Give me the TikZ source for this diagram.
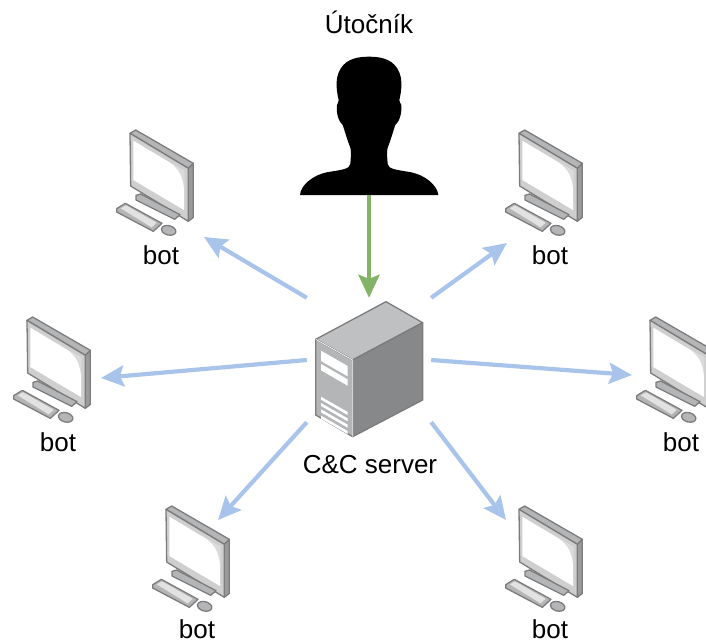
\documentclass[tikz,border=0pt]{standalone}
\usepackage{fontspec}
\usepackage{xcolor}
\setmainfont{Liberation Sans}
\usetikzlibrary{positioning,calc,arrows.meta}

\definecolor{linkblue}{HTML}{A9C4EB}
\definecolor{linkgreen}{HTML}{82B366}
\definecolor{edgegray}{HTML}{7C7C7C}
\definecolor{bodygray}{HTML}{B4B5B7}
\definecolor{sidegray}{HTML}{87888A}
\definecolor{framegray}{HTML}{CFCFD0}
\definecolor{keygray}{HTML}{E2E2E2}

\tikzset{
    caption/.style={inner sep=0pt, font=\fontsize{26}{26}\selectfont},
    hollow/.style={rectangle, inner sep=0pt, minimum width=124pt, minimum height=124pt},
    order/.style={draw=linkblue, line width=4.2pt, -{Stealth[length=23pt,width=21pt,inset=4pt]}},
    control/.style={draw=linkgreen, line width=4.2pt, -{Stealth[length=23pt,width=21pt,inset=4pt]}},
    part/.style={draw=edgegray, line width=1.3pt, line join=round},
    computer/.pic={
        % monitor
        \draw[part, fill=bodygray] (90,40) -- (107,30) -- (280,130) -- (265,145) -- cycle;
        \draw[part, fill=sidegray!85!white] (265,145) -- (280,130) -- (280,292) -- (265,304) -- cycle;
        \draw[part, fill=framegray] (90,40) -- (265,145) -- (265,304) -- (92,198) -- cycle;
        \fill[white] (100,62) -- (252,153) -- (252,270) -- (100,180) -- cycle;
        \fill[black!14] (212,129) -- (252,153) -- (252,205) .. controls (248,170) and (238,148) .. cycle;
        % stand
        \draw[part, fill=bodygray] (108,226) -- (122,222) -- (240,284) -- (224,298) -- (108,240) -- cycle;
        % keyboard
        \draw[part, fill=bodygray] (50,266) -- (76,250) -- (186,310) -- (160,334) -- (50,276) -- cycle;
        \fill[keygray] (62,265) -- (78,256) -- (170,308) -- (155,322) -- cycle;
        % mouse
        \draw[part, fill=bodygray] (206,331) ellipse [x radius=22, y radius=14, rotate=-15];
    },
    tower/.pic={
        \draw[part, fill=bodygray!85!white] (77,178) -- (288,65) -- (398,128) -- (188,240) -- cycle;
        \draw[part, fill=sidegray] (188,240) -- (398,128) -- (398,360) -- (188,470) -- cycle;
        \draw[part, fill=bodygray] (77,178) -- (188,240) -- (188,470) -- (77,405) -- cycle;
        \draw[white, line width=0.7pt] (77,178) -- (188,240) -- (188,470);
        \fill[white] (93,212) -- (173,258) -- (173,289) -- (93,243) -- cycle;
        \fill[white] (93,252) -- (173,298) -- (173,317) -- (93,271) -- cycle;
        \foreach \n in {0,1,2,3}
            \fill[white] (93,{350+\n*19}) -- (173,{396+\n*19}) -- (173,{405+\n*19}) -- (93,{359+\n*19}) -- cycle;
    },
    person/.pic={
        \fill[black] (30,555) .. controls (32,525) and (70,495) .. (110,487)
            .. controls (150,480) and (180,478) .. (181,462)
            .. controls (183,430) and (185,420) .. (178,405)
            .. controls (170,385) and (162,355) .. (158,345)
            .. controls (146,335) and (138,310) .. (141,285)
            .. controls (143,275) and (146,280) .. (146,270)
            .. controls (140,245) and (136,215) .. (145,190)
            .. controls (160,150) and (195,140) .. (237,140)
            .. controls (279,140) and (314,150) .. (329,190)
            .. controls (338,215) and (334,245) .. (328,270)
            .. controls (328,280) and (331,275) .. (334,285)
            .. controls (336,310) and (328,335) .. (316,345)
            .. controls (312,355) and (304,385) .. (296,405)
            .. controls (289,420) and (291,430) .. (293,462)
            .. controls (294,478) and (324,480) .. (364,487)
            .. controls (404,495) and (442,525) .. (445,555) -- cycle;
    }
}

\begin{document}
\begin{tikzpicture}[x=1pt, y=-1pt]
    \useasboundingbox (0,0) rectangle (706,641);

    \pic[scale=1/3] at (290,10) {person};
    \pic[scale=1/3] at (290,280) {tower};
    \pic[scale=1/3] at (100,120) {computer};
    \pic[scale=1/3] at (489,120) {computer};
    \pic[scale=1/3] at (-3,307) {computer};
    \pic[scale=1/3] at (620,307) {computer};
    \pic[scale=1/3] at (136,496) {computer};
    \pic[scale=1/3] at (489,496) {computer};

    \node[caption] (attacker) at (369,22) {Útočník};
    \node[caption] (server) at (370,465) {C\&C server};
    \node[caption] (botNW) at (161,255) {bot};
    \node[caption] (botNE) at (550,255) {bot};
    \node[caption] (botW) at (58,442) {bot};
    \node[caption] (botE) at (681,442) {bot};
    \node[caption] (botSW) at (197,629.5) {bot};
    \node[caption] (botSE) at (550,629.5) {bot};

    \node[hollow] (srv) at (369,360) {};
    \coordinate (head) at (369,195);
    \coordinate (endNW) at (204,237);
    \coordinate (endNE) at (507,243);
    \coordinate (endW) at (101,378);
    \coordinate (endE) at (632,375);
    \coordinate (endSW) at (218,520);
    \coordinate (endSE) at (506,520);

    \draw[control] (head) -- (srv.north);
    \draw[order] (srv.north west) -- (endNW);
    \draw[order] (srv.north east) -- (endNE);
    \draw[order] (srv.west) -- (endW);
    \draw[order] (srv.east) -- (endE);
    \draw[order] (srv.south west) -- (endSW);
    \draw[order] (srv.south east) -- (endSE);
\end{tikzpicture}
\end{document}
